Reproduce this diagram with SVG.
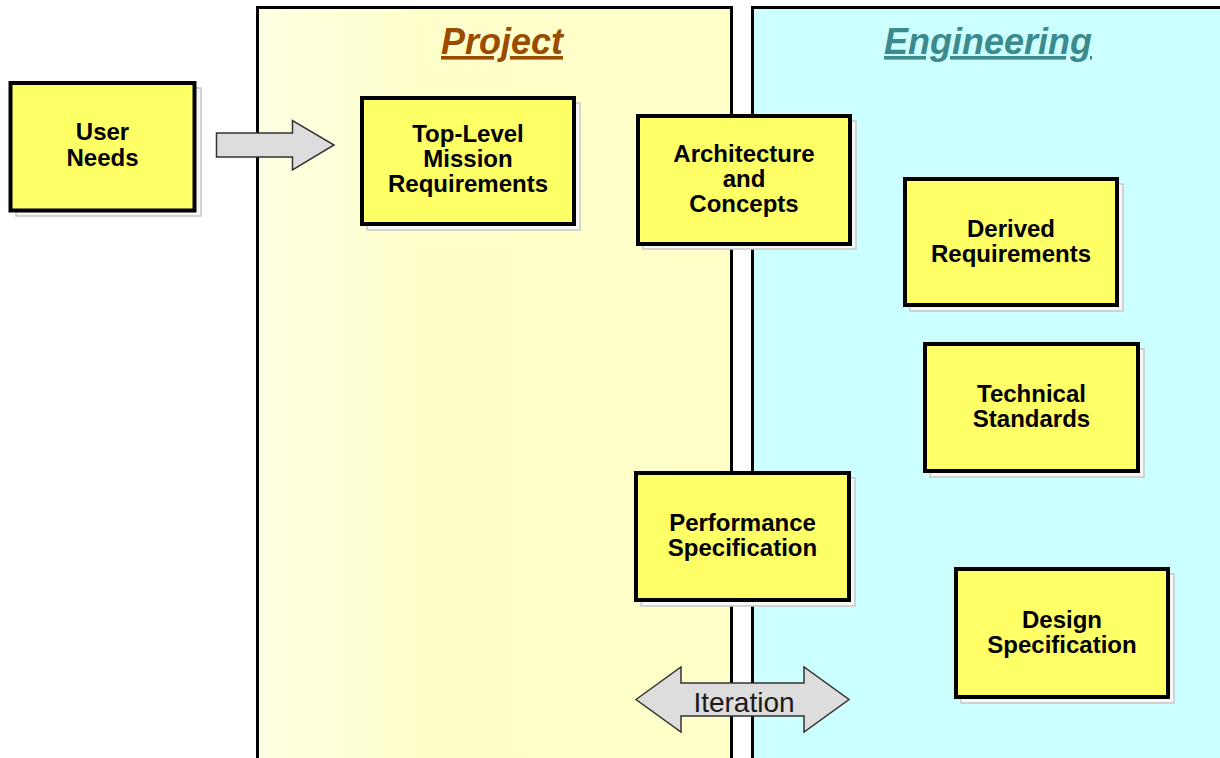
<svg xmlns="http://www.w3.org/2000/svg" width="1220" height="758" viewBox="0 0 1220 758">
  <defs>
    <linearGradient id="projFill" x1="0" y1="0" x2="1" y2="0">
      <stop offset="0" stop-color="#FFFFE4"/>
      <stop offset="0.35" stop-color="#FFFFCC"/>
      <stop offset="1" stop-color="#FFFFC8"/>
    </linearGradient>
    <style>
      .panel { stroke: #000; stroke-width: 3; }
      .title { font-family: "Liberation Sans", Arial, sans-serif; font-weight: bold; font-style: italic; font-size: 36px; text-anchor: middle; text-decoration: underline; }
      .shadow { fill: #F7F7F7; stroke: #C8C8C8; stroke-width: 1.5; }
      .box { fill: #FFFF66; stroke: #000; stroke-width: 4; }
      .lbl { font-family: "Liberation Sans", Arial, sans-serif; font-weight: bold; font-size: 24px; text-anchor: middle; fill: #000; }
      .arrow { fill: #DDDDDD; stroke: #333; stroke-width: 1.5; stroke-linejoin: miter; }
      .alabel { font-family: "Liberation Sans", Arial, sans-serif; font-size: 28px; text-anchor: middle; fill: #1a1a1a; }
    </style>
  </defs>

  <rect width="1220" height="758" fill="#FFFFFF"/>

  <g id="panel-project">
    <rect class="panel" x="257.5" y="7.5" width="474" height="770" fill="url(#projFill)"/>
    <text class="title" x="502" y="54" fill="#994C00">Project</text>
  </g>
  <g id="panel-engineering">
    <rect class="panel" x="752.5" y="7.5" width="490" height="770" fill="#CCFFFF"/>
    <text class="title" x="988" y="54" fill="#3C8A8E">Engineering</text>
  </g>

  <g id="node-user-needs">
    <rect class="shadow" x="16" y="88" width="185" height="128"/>
    <rect class="box" x="10.5" y="83" width="184" height="127.5"/>
    <text class="lbl" x="102.5" y="140">User</text>
    <text class="lbl" x="102.5" y="166">Needs</text>
  </g>

  <g id="node-top-level">
    <rect class="shadow" x="367" y="103" width="213" height="127"/>
    <rect class="box" x="362" y="98" width="212" height="126"/>
    <text class="lbl" x="468" y="142">Top-Level</text>
    <text class="lbl" x="468" y="167">Mission</text>
    <text class="lbl" x="468" y="192">Requirements</text>
  </g>

  <g id="node-architecture">
    <rect class="shadow" x="643" y="121" width="213" height="128"/>
    <rect class="box" x="638" y="116" width="212" height="128"/>
    <text class="lbl" x="744" y="162">Architecture</text>
    <text class="lbl" x="744" y="187">and</text>
    <text class="lbl" x="744" y="212">Concepts</text>
  </g>

  <g id="node-derived">
    <rect class="shadow" x="910" y="184" width="213" height="127"/>
    <rect class="box" x="905" y="179" width="212" height="126"/>
    <text class="lbl" x="1011" y="237">Derived</text>
    <text class="lbl" x="1011" y="262">Requirements</text>
  </g>

  <g id="node-technical">
    <rect class="shadow" x="930" y="349" width="214" height="128"/>
    <rect class="box" x="925" y="344" width="213" height="127"/>
    <text class="lbl" x="1031.5" y="402">Technical</text>
    <text class="lbl" x="1031.5" y="427">Standards</text>
  </g>

  <g id="node-performance">
    <rect class="shadow" x="641" y="478" width="214" height="128"/>
    <rect class="box" x="636" y="473" width="213" height="127"/>
    <text class="lbl" x="742.5" y="531">Performance</text>
    <text class="lbl" x="742.5" y="556">Specification</text>
  </g>

  <g id="node-design">
    <rect class="shadow" x="961" y="574" width="213" height="129"/>
    <rect class="box" x="956" y="569" width="212" height="128"/>
    <text class="lbl" x="1062" y="628">Design</text>
    <text class="lbl" x="1062" y="653">Specification</text>
  </g>

  <g id="connectors">
    <polygon class="arrow" points="216.5,133 292.5,133 292.5,120.5 334,145 292.5,170 292.5,157 216.5,157"/>
    <g id="iteration">
      <polygon class="arrow" points="636,699.5 681,667 681,683 804,683 804,667 849,699.5 804,732 804,716 681,716 681,732"/>
      <text class="alabel" x="744" y="712">Iteration</text>
    </g>
  </g>
</svg>
